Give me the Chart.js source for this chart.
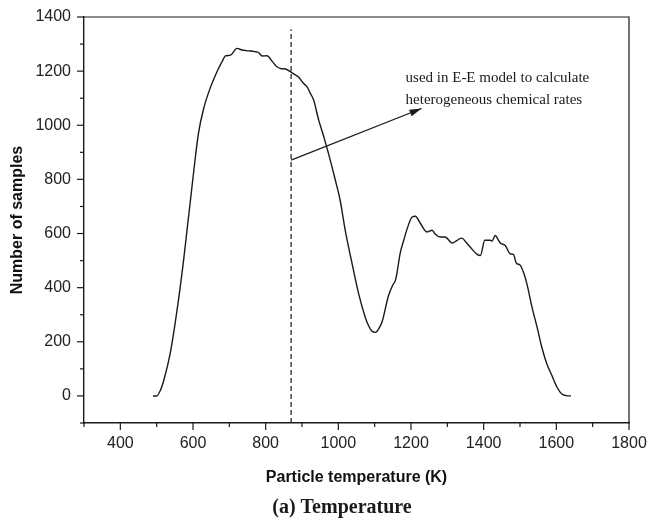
<!DOCTYPE html>
<html>
<head>
<meta charset="utf-8">
<script src="https://cdn.jsdelivr.net/npm/chart.js@4"></script>
<style>
  html,body{margin:0;padding:0;background:#fff;}
  #wrap{width:648px;height:524px;position:relative;}
</style>
</head>
<body>
<div id="wrap"><canvas id="chart"></canvas></div>
<script>
// --- Data ---
const temps = [490,500,510,520,537,556,574,585,593,602,615,629,648,666,680,689,703,721,735,753,770,781,790,804,818,831,843,854,868,880,891,904,914,923,932,946,960,973,992,1005,1019,1038,1056,1074,1083,1092,1102,1111,1120,1138,1150,1157,1161,1170,1180,1190,1203,1212,1226,1244,1258,1267,1281,1294,1313,1327,1340,1352,1363,1382,1391,1403,1418,1423,1432,1441,1446,1460,1473,1482,1490,1500,1510,1519,1533,1547,1560,1574,1588,1602,1615,1628,1640];
const counts = [0,0,20,60,155,316,500,630,723,830,970,1060,1140,1198,1235,1256,1259,1284,1278,1275,1272,1268,1256,1257,1236,1216,1209,1208,1198,1187,1177,1155,1142,1118,1093,1019,957,895,796,723,612,488,377,291,260,240,235,248,272,370,410,427,451,526,575,620,661,664,637,606,612,597,587,587,565,575,583,567,550,523,519,575,575,572,593,575,565,555,525,523,490,484,455,414,328,254,180,118,75,32,7,1,0];

const markerTemp = 870;          // dashed vertical line
const markerTop = 1355;
const arrowFrom = [870, 871];
const arrowTo = [1229, 1062];
const noteAt = [1185, 1182];
const noteLines = ['used in E-E model to calculate', 'heterogeneous chemical rates'];
const xTitle = 'Particle temperature (K)';
const yTitle = 'Number of samples';
const caption = '(a) Temperature';

const INK = '#1a1a1a';

// --- Extras: frame, major/minor ticks, arrow head, note, caption ---
const extras = {
  id:'extras',
  afterDraw(chart){
    const {ctx, chartArea:a, scales:{x, y}} = chart;
    ctx.save();
    ctx.strokeStyle = INK; ctx.lineWidth = 1.2;
    ctx.beginPath();
    ctx.moveTo(a.left, a.top); ctx.lineTo(a.right, a.top); ctx.lineTo(a.right, a.bottom);
    ctx.stroke();
    x.ticks.forEach(t=>{
      const px = x.getPixelForValue(t.value), len = t.value % 200 === 0 ? 7 : 4;
      ctx.beginPath(); ctx.moveTo(px, a.bottom); ctx.lineTo(px, a.bottom + len); ctx.stroke();
    });
    y.ticks.forEach(t=>{
      const py = y.getPixelForValue(t.value), len = t.value % 200 === 0 ? 7 : 4;
      ctx.beginPath(); ctx.moveTo(a.left, py); ctx.lineTo(a.left - len, py); ctx.stroke();
    });
    // arrow head
    const x0 = x.getPixelForValue(arrowFrom[0]), y0 = y.getPixelForValue(arrowFrom[1]);
    const x1 = x.getPixelForValue(arrowTo[0]), y1 = y.getPixelForValue(arrowTo[1]);
    const ang = Math.atan2(y1 - y0, x1 - x0);
    ctx.fillStyle = INK;
    ctx.beginPath();
    ctx.moveTo(x1, y1);
    ctx.lineTo(x1 - 12*Math.cos(ang) + 3.5*Math.sin(ang), y1 - 12*Math.sin(ang) - 3.5*Math.cos(ang));
    ctx.lineTo(x1 - 12*Math.cos(ang) - 3.5*Math.sin(ang), y1 - 12*Math.sin(ang) + 3.5*Math.cos(ang));
    ctx.closePath(); ctx.fill();
    // note
    ctx.font = '15px "Liberation Serif", serif';
    ctx.textAlign = 'left'; ctx.textBaseline = 'alphabetic';
    const nx = x.getPixelForValue(noteAt[0]), ny = y.getPixelForValue(noteAt[1]);
    noteLines.forEach((s, i)=>ctx.fillText(s, nx, ny + 6 + i*22));
    // caption
    ctx.font = 'bold 20px "Liberation Serif", serif';
    ctx.textAlign = 'center'; ctx.textBaseline = 'middle';
    ctx.fillText(caption, 342, 508);
    ctx.restore();
  }
};

const pts = temps.map((t, i)=>({x:t, y:counts[i]}));

new Chart(document.getElementById('chart'), {
  type:'line',
  data:{datasets:[
    {data:pts, borderColor:INK, borderWidth:1.4, pointRadius:0, tension:0.3, cubicInterpolationMode:'monotone', fill:false},
    {data:[{x:markerTemp, y:-100}, {x:markerTemp, y:markerTop}], borderColor:INK, borderWidth:1.2, borderDash:[5,3], pointRadius:0},
    {data:[{x:arrowFrom[0], y:arrowFrom[1]}, {x:arrowTo[0], y:arrowTo[1]}], borderColor:INK, borderWidth:1.2, pointRadius:0}
  ]},
  options:{
    responsive:true, maintainAspectRatio:false, animation:false,
    layout:{padding:{left:0, right:19, top:17, bottom:36}},
    plugins:{legend:{display:false}, tooltip:{enabled:false}},
    scales:{
      x:{
        type:'linear', min:300, max:1800,
        afterFit(s){ s.height = 65; s.paddingRight = 10; s.paddingLeft = 0; },
        ticks:{stepSize:100, autoSkip:false, maxRotation:0, padding:4, color:'#222',
          font:{family:'"Liberation Sans", Arial, sans-serif', size:16},
          callback:v=>v % 200 === 0 ? v : ''},
        grid:{drawOnChartArea:false, tickLength:7, tickColor:'transparent'},
        border:{color:INK, width:1.4},
        title:{display:true, text:xTitle, color:'#111', padding:{top:0, bottom:1},
          font:{family:'"Liberation Sans", Arial, sans-serif', size:16, weight:'bold'}}
      },
      y:{
        min:-100, max:1400,
        afterFit(s){ s.width = 84; },
        ticks:{stepSize:100, autoSkip:false, padding:6, color:'#222',
          font:{family:'"Liberation Sans", Arial, sans-serif', size:16},
          callback:v=>v % 200 === 0 ? v : ''},
        grid:{drawOnChartArea:false, tickLength:7, tickColor:'transparent'},
        border:{color:INK, width:1.4},
        title:{display:true, text:yTitle, color:'#111', padding:{top:8, bottom:0},
          font:{family:'"Liberation Sans", Arial, sans-serif', size:16, weight:'bold'}}
      }
    }
  },
  plugins:[extras]
});
</script>
</body>
</html>
